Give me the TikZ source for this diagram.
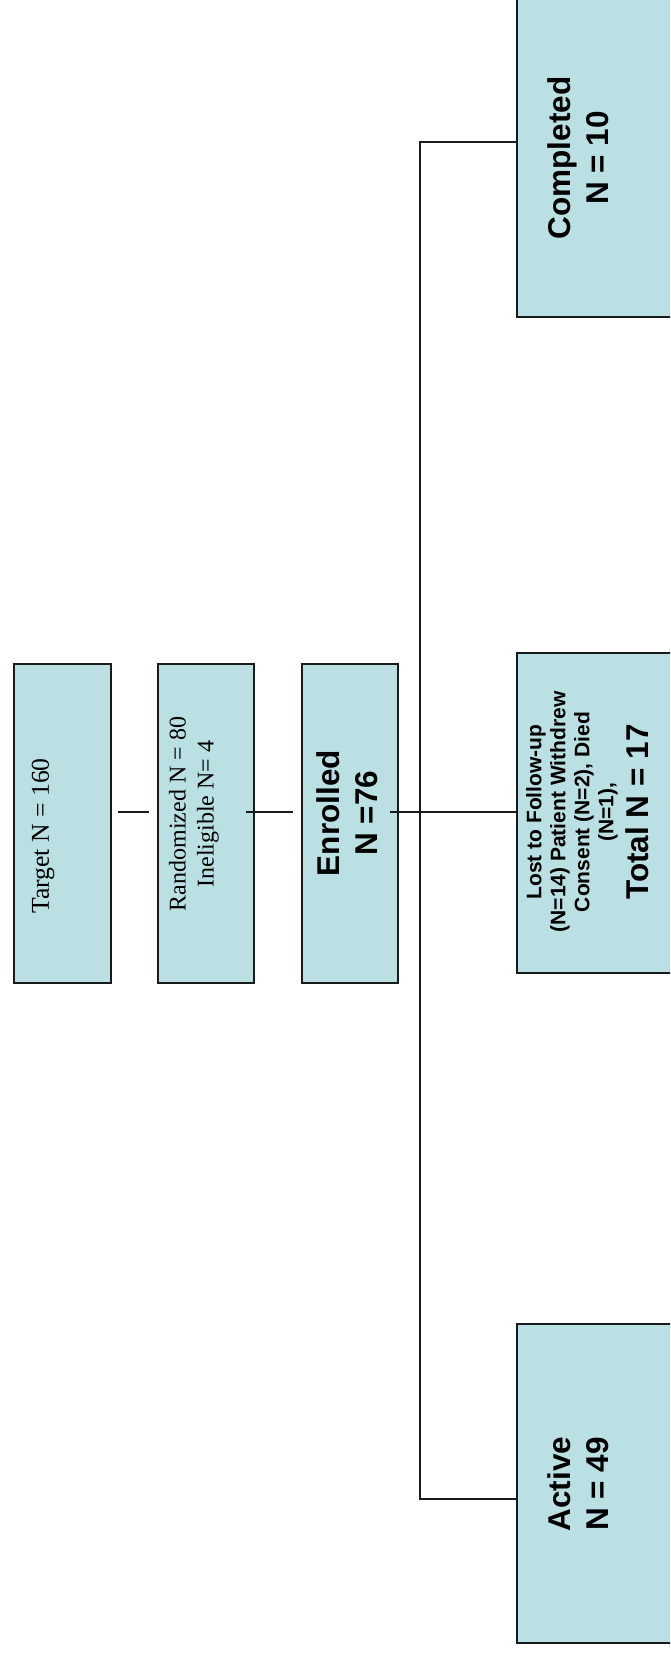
\documentclass[tikz,border=0pt]{standalone}
\usepackage{fontspec}
\setmainfont{Liberation Serif}
\newfontfamily\arialfont{Liberation Sans}
\usetikzlibrary{calc}
\definecolor{boxfill}{HTML}{BBE0E3}
\definecolor{boxline}{HTML}{1A1A1A}
\begin{document}
\begin{tikzpicture}[x=1pt,y=1pt,
  box/.style={draw=boxline, line width=2pt, fill=boxfill, inner sep=0pt, anchor=north west},
  lbl/.style={rotate=90, align=center, inner sep=0pt},
  serif/.style={font=\fontsize{24}{28}\selectfont},
  bigbold/.style={font=\arialfont\bfseries\fontsize{31.5}{38}\selectfont},
  smallbold/.style={font=\arialfont\bfseries\fontsize{21}{24}\selectfont},
  conn/.style={line width=1.4pt, draw=boxline}]
\clip (0,0) rectangle (670,-1654);
\fill[white] (0,0) rectangle (670,-1654);

% boxes
\node[box, minimum width=97pt, minimum height=319pt] (target) at (13,-663) {};
\node[box, minimum width=96pt, minimum height=319pt] (rand) at (157,-663) {};
\node[box, minimum width=96pt, minimum height=319pt] (enr) at (301,-663) {};
\node[box, minimum width=200pt, minimum height=320pt] (lost) at (516,-652) {};
\node[box, minimum width=200pt, minimum height=320pt] (comp) at (516,4) {};
\node[box, minimum width=200pt, minimum height=319pt] (active) at (516,-1323) {};

% texts
\node[lbl, font=\fontsize{25.7}{29}\selectfont] (ttarget) at (43,-836) {Target N = 160};
\node[lbl, serif] (trand) at (194,-814) {Randomized N = 80\\Ineligible N= 4};
\node[lbl, bigbold] (tenr) at (347,-813) {Enrolled\\N =76};
\node[lbl, smallbold] (tlost) at (572,-812) {Lost to Follow-up\\(N=14) Patient Withdrew\\Consent (N=2), Died\\(N=1),};
\node[lbl, bigbold] (ttotal) at (637,-812) {Total N = 17};
\node[lbl, bigbold] (tcomp) at (578,-158) {Completed\\N = 10};
\node[lbl, bigbold] (tactive) at (578,-1484) {Active\\N = 49};

% connectors
\coordinate (row) at (0,-812);
\coordinate (ctop) at (420,-142);
\coordinate (cbot) at (420,-1499);
\draw[conn] ($(target.east |- row)+(6,0)$) -- ($(rand.west |- row)+(-8,0)$);
\draw[conn] ($(rand.east |- row)+(-9,0)$) -- ($(enr.west |- row)+(-8,0)$);
\draw[conn] ($(enr.east |- row)+(-9,0)$) -- (lost.west |- row);
\draw[conn] (comp.west |- ctop) -- (ctop) -- (cbot) -- (active.west |- cbot);
\end{tikzpicture}
\end{document}
